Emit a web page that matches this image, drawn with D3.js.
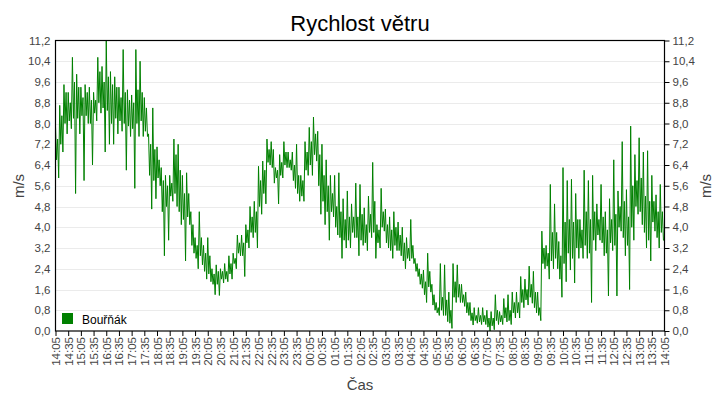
<!DOCTYPE html>
<html><head><meta charset="utf-8">
<script src="https://cdn.jsdelivr.net/npm/d3@7"></script>
<style>body{margin:0;background:#fff} svg{display:block;font-family:"Liberation Sans",Arial,sans-serif}</style>
</head><body><svg id="c" width="720" height="400"></svg>
<script>
const chartTitle = "Rychlost větru";
const seriesName = "Bouřňák";
const yLabel = "m/s";
const xLabel = "Čas";
const yTicks = [0,0.8,1.6,2.4,3.2,4.0,4.8,5.6,6.4,7.2,8.0,8.8,9.6,10.4,11.2];
const timeLabels = ["14:05","14:35","15:05","15:35","16:05","16:35","17:05","17:35","18:05","18:35","19:05","19:35","20:05","20:35","21:05","21:35","22:05","22:35","23:05","23:35","00:05","00:35","01:05","01:35","02:05","02:35","03:05","03:35","04:05","04:35","05:05","05:35","06:05","06:35","07:05","07:35","08:05","08:35","09:05","09:35","10:05","10:35","11:05","11:35","12:05","12:35","13:05","13:35","14:05"];
const labelStepMinutes = 30;
const sampleStepMinutes = 2.5;
// wind speed [m/s], one reading every 2.5 minutes from 14:05
const windSpeed = [
7.9,6.6,7.4,5.9, 8.7,7.2,8.3,6.9, 9.5,8.0,9.2,7.6, 9.2,8.1,8.8,7.8, 10.55,8.2,9.6,5.3,
9.9,8.2,9.4,7.6, 9.4,8.3,9.0,5.8, 9.5,8.3,9.2,8.0, 9.4,8.0,8.9,6.4, 9.2,8.4,8.9,8.1,
10.55,8.8,10.0,8.4, 10.2,8.6,9.6,6.9, 11.2,8.5,9.8,7.2, 10.0,8.0,9.5,7.2, 9.8,8.2,9.4,7.6,
9.4,8.1,9.0,7.7, 10.85,8.0,9.2,6.2, 9.3,7.9,8.9,7.5, 9.1,7.8,8.8,5.5, 10.85,8.0,9.3,7.5,
10.4,8.1,9.2,7.5, 9.0,7.7,8.6,7.5, 7.6,6.0,7.2,4.7, 8.6,5.8,7.0,5.1, 7.1,5.9,6.6,5.6,
6.3,4.6,5.8,2.9, 6.0,4.8,5.6,3.5, 6.0,5.2,5.7,5.0, 7.4,5.3,6.8,4.8, 7.2,4.6,6.2,4.1,
6.0,4.3,5.3,2.7, 6.1,4.4,5.3,4.1, 4.6,3.3,4.1,3.0, 3.6,2.8,3.3,2.4, 4.6,2.9,3.6,2.55,
3.3,2.3,3.0,2.0, 3.6,2.2,2.9,1.9, 2.4,1.8,2.2,1.4, 2.55,1.8,2.3,1.37, 2.4,2.0,2.3,1.85,
2.6,2.0,2.3,1.9, 2.9,2.2,2.6,2.0, 3.0,2.6,2.8,2.4, 3.7,3.0,3.4,2.9, 3.7,2.9,3.4,2.1,
4.1,3.4,3.9,3.2, 4.8,3.8,4.4,3.6, 5.0,3.8,4.6,3.2, 6.35,4.8,5.8,4.5, 6.55,5.3,6.2,4.9,
7.4,6.5,7.0,6.4, 7.3,6.3,7.0,5.7, 6.3,5.9,6.2,4.9, 6.8,6.0,6.5,5.9, 7.3,6.4,6.9,6.3,
6.9,6.3,6.6,6.2, 6.9,5.8,6.4,5.5, 7.2,5.3,6.0,5.0, 6.0,5.2,5.8,5.0, 7.3,6.2,6.9,6.0,
7.85,6.4,7.3,6.0, 8.25,6.8,7.6,6.55, 7.7,5.6,6.8,4.5, 7.2,5.0,6.0,4.1, 6.6,4.6,5.6,3.5,
6.0,4.6,5.3,4.4, 6.0,4.0,4.8,3.7, 6.1,3.6,4.6,2.8, 5.1,3.5,4.3,3.2, 5.4,3.5,4.4,3.2,
4.9,3.8,4.4,3.6, 5.7,3.6,4.4,2.9, 5.65,3.5,4.5,3.3, 4.75,3.4,4.1,3.1, 5.2,3.8,4.5,3.6,
6.5,3.8,5.0,2.8, 4.1,3.4,3.9,3.2, 5.5,4.0,4.6,3.85, 4.7,3.4,4.1,3.2, 4.4,3.1,3.9,2.8,
4.6,3.3,4.0,3.1, 4.2,3.1,3.7,2.9, 4.0,2.7,3.4,2.4, 3.6,2.8,3.2,2.7, 4.3,2.8,3.3,2.6,
2.8,2.3,2.6,2.1, 2.4,1.8,2.2,1.65, 2.35,1.4,1.9,1.1, 3.0,1.7,2.3,1.5, 1.8,1.0,1.4,0.8,
1.1,0.7,0.9,0.6, 2.6,0.8,1.3,0.6, 2.55,0.6,1.2,0.36, 1.5,0.3,0.8,0.1, 2.6,1.3,1.9,1.1,
2.55,1.3,1.8,1.1, 1.8,1.1,1.4,0.95, 1.5,0.7,1.1,0.6, 1.1,0.4,0.7,0.23, 0.9,0.4,0.6,0.3,
0.9,0.35,0.6,0.25, 0.9,0.35,0.6,0.25, 0.8,0.15,0.5,0.0, 0.75,0.2,0.5,0.05, 1.4,0.4,0.8,0.25,
0.75,0.35,0.6,0.25, 1.25,0.5,0.9,0.35, 1.4,0.4,0.8,0.25, 1.5,0.7,1.1,0.5, 1.5,0.7,1.1,0.5,
2.1,1.1,1.6,0.9, 2.0,1.2,1.6,1.0, 2.5,1.3,1.8,1.07, 2.3,0.9,1.5,0.7, 1.5,0.6,0.9,0.4,
3.85,2.6,3.2,2.4, 3.3,2.5,3.0,2.0, 5.65,2.7,3.8,2.4, 4.9,2.8,3.8,2.4, 3.45,2.0,2.9,1.3,
6.3,2.6,4.2,1.9, 5.8,3.0,4.3,2.35, 5.85,2.8,4.2,1.85, 5.3,3.2,4.3,2.8, 4.3,3.2,3.9,2.8,
6.2,3.3,4.6,2.8, 5.8,3.0,4.3,1.1, 6.0,3.5,4.6,3.1, 4.9,3.7,4.3,3.5, 5.65,3.4,4.4,2.9,
4.6,3.0,3.9,1.35, 5.1,3.4,4.3,3.1, 6.6,3.3,4.5,1.35, 5.4,4.0,4.8,3.85, 7.3,3.6,5.0,2.9,
5.45,3.3,4.4,1.6, 7.9,4.0,5.6,3.5, 6.8,4.8,5.8,4.5, 7.45,4.6,5.9,4.1, 6.9,3.8,5.2,3.2,
6.95,3.5,5.0,2.7, 6.0,4.2,5.0,3.85, 5.25,3.6,4.6,3.2, 5.65,3.8,4.6,3.5,
3.5
];

const svg = d3.select("#c");
const M = {left:55.5, right:664.5, top:40.5, bottom:331};
const totalMinutes = (timeLabels.length-1)*labelStepMinutes;
const x = d3.scaleLinear().domain([0,totalMinutes]).range([M.left,M.right]);
const y = d3.scaleLinear().domain([0,11.2]).range([M.bottom,M.top]);
const fmt = v => d3.format(".1f")(v).replace(".",",");

// grid
svg.append("g").selectAll("line").data(yTicks.slice(1,-1)).join("line")
  .attr("x1",M.left).attr("x2",M.right)
  .attr("y1",d=>Math.round(y(d))+0.5).attr("y2",d=>Math.round(y(d))+0.5)
  .attr("stroke","#ebebeb").attr("stroke-width",1);

// line
const pts = windSpeed.map((v,i)=>[i*sampleStepMinutes, v]);
svg.append("path").datum(pts)
  .attr("fill","none").attr("stroke","#008000").attr("stroke-width",1)
  .attr("d", d3.line().x(d=>x(d[0])).y(d=>y(d[1])));

// frame
svg.append("rect").attr("x",M.left).attr("y",M.top)
  .attr("width",M.right-M.left).attr("height",M.bottom-M.top)
  .attr("fill","none").attr("stroke","#000").attr("stroke-width",1.2);

// left axis
const yl = svg.append("g").attr("transform",`translate(${M.left},0)`)
  .call(d3.axisLeft(y).tickValues(yTicks).tickFormat(fmt).tickSize(0).tickPadding(5));
// right axis
const yr = svg.append("g").attr("transform",`translate(${M.right},0)`)
  .call(d3.axisRight(y).tickValues(yTicks).tickFormat(fmt).tickSize(5).tickPadding(3));
[yl,yr].forEach(g=>{
  g.select(".domain").remove();
  g.selectAll("text").attr("font-size",11.5).attr("fill","#444").attr("font-family","Liberation Sans, Arial, sans-serif");
  g.selectAll("line").attr("stroke","#000");
});

// bottom axis
const xTickValues = timeLabels.map((d,i)=>i*labelStepMinutes);
const xa = svg.append("g").attr("transform",`translate(0,${M.bottom})`)
  .call(d3.axisBottom(x).tickValues(xTickValues).tickFormat((d,i)=>timeLabels[i]).tickSize(5).tickPadding(3));
xa.select(".domain").remove();
xa.selectAll("line").attr("stroke","#000");
xa.selectAll("text").attr("font-size",11.5).attr("fill","#444")
  .attr("font-family","Liberation Sans, Arial, sans-serif")
  .attr("text-anchor","end").attr("transform","rotate(-90)")
  .attr("x",-6).attr("y",0).attr("dy","0.35em");

// titles
svg.append("text").attr("x",360).attr("y",31).attr("text-anchor","middle")
  .attr("font-size",22).attr("fill","#000").text(chartTitle);
svg.append("text").attr("transform","translate(24,186) rotate(-90)").attr("text-anchor","middle")
  .attr("font-size",15).attr("fill","#444").text(yLabel);
svg.append("text").attr("transform","translate(711,186) rotate(-90)").attr("text-anchor","middle")
  .attr("font-size",15).attr("fill","#444").text(yLabel);
svg.append("text").attr("x",360).attr("y",390).attr("text-anchor","middle")
  .attr("font-size",15).attr("fill","#444").text(xLabel);

// legend
svg.append("rect").attr("x",62).attr("y",313).attr("width",11).attr("height",11).attr("fill","#008000");
svg.append("text").attr("x",82).attr("y",323.5).attr("font-size",12).attr("fill","#000").text(seriesName);
</script></body></html>
